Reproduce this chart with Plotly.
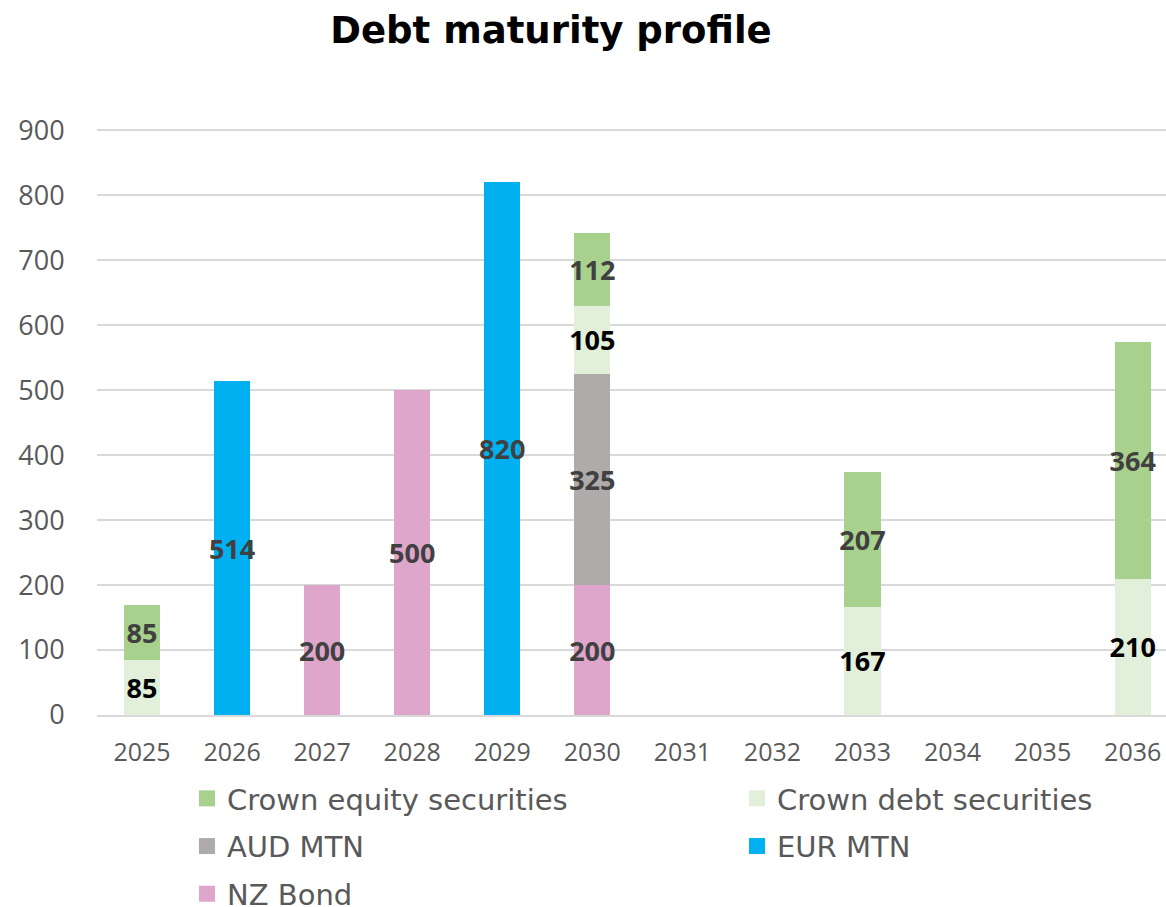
import plotly.graph_objects as go

# Maturity years and amounts per funding source
years = ["2025", "2026", "2027", "2028", "2029", "2030",
         "2031", "2032", "2033", "2034", "2035", "2036"]
nz_bond = [None, None, 200, 500, None, 200, None, None, None, None, None, None]
aud_mtn = [None, None, None, None, None, 325, None, None, None, None, None, None]
eur_mtn = [None, 514, None, None, 820, None, None, None, None, None, None, None]
crown_debt = [85, None, None, None, None, 105, None, None, 167, None, None, 210]
crown_equity = [85, None, None, None, None, 112, None, None, 207, None, None, 364]
y_ticks = [0, 100, 200, 300, 400, 500, 600, 700, 800, 900]

# name, values, fill colour, label colour, legend, rank
series = [
    ("NZ Bond", nz_bond, "#DFA6CB", "#404040", "legend", 5),
    ("AUD MTN", aud_mtn, "#AFABAB", "#404040", "legend", 3),
    ("EUR MTN", eur_mtn, "#00B0F0", "#404040", "legend2", 4),
    ("Crown debt securities", crown_debt, "#E2EFDA", "#000000", "legend2", 2),
    ("Crown equity securities", crown_equity, "#A9D18E", "#404040", "legend", 1),
]

fig = go.Figure()
for name, vals, color, tcolor, leg, rank in series:
    fig.add_trace(go.Bar(
        x=years, y=vals, name=name,
        marker=dict(color=color, line=dict(width=0)),
        text=[("" if v is None else str(v)) for v in vals],
        textposition="inside", insidetextanchor="middle",
        textangle=0,
        textfont=dict(family="Open Sans", size=27, color=tcolor, weight="bold"),
        legendgroup=name, showlegend=False,
        cliponaxis=False,
    ))
    # square legend swatch for this series
    fig.add_trace(go.Scatter(
        x=[None], y=[None], mode="markers", name=name,
        marker=dict(symbol="square", size=16, color=color, line=dict(width=0)),
        legend=leg, legendrank=rank, legendgroup=name, hoverinfo="skip",
    ))

legend_font = dict(family="DejaVu Sans", size=29, color="#595959")

fig.update_layout(
    width=1166, height=907,
    barmode="stack", bargap=0.6,
    paper_bgcolor="white", plot_bgcolor="white",
    margin=dict(l=97, r=0, t=129, b=192, autoexpand=False),
    uniformtext=dict(minsize=27, mode="show"),
    title=dict(text="<b>Debt maturity profile</b>",
               font=dict(family="DejaVu Sans", size=37, color="#000000"),
               xref="container", x=551 / 1166, xanchor="center",
               yref="container", y=1 - 30 / 907, yanchor="middle"),
    xaxis=dict(type="category", categoryorder="array", categoryarray=years,
               range=[-0.5, 11.37], showgrid=False, tickangle=0,
               showline=True, linecolor="#D9D9D9", linewidth=2,
               ticks="outside", ticklen=14, tickcolor="rgba(0,0,0,0)",
               tickfont=dict(family="Open Sans", size=25, color="#595959")),
    yaxis=dict(range=[0, 902], tickvals=y_ticks,
               showgrid=True, gridcolor="#D9D9D9", gridwidth=1.5,
               zeroline=False,
               ticks="outside", ticklen=26, tickcolor="rgba(0,0,0,0)",
               tickfont=dict(family="Open Sans", size=27, color="#595959")),
    legend=dict(orientation="v", x=187 / 1166, xanchor="left",
                y=1 - 773 / 907, yanchor="top", yref="container", xref="container",
                font=legend_font, tracegroupgap=7, traceorder="grouped",
                itemsizing="trace", bgcolor="rgba(0,0,0,0)"),
    legend2=dict(orientation="v", x=737 / 1166, xanchor="left",
                 y=1 - 773 / 907, yanchor="top", yref="container", xref="container",
                 font=legend_font, tracegroupgap=7, traceorder="grouped",
                 itemsizing="trace", bgcolor="rgba(0,0,0,0)"),
)

fig.write_html("out.html")
